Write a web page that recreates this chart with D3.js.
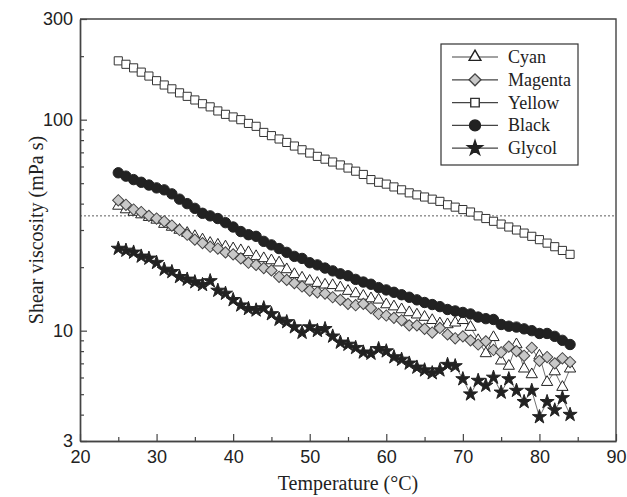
<!DOCTYPE html>
<html>
<head>
<meta charset="utf-8">
<script src="https://cdn.jsdelivr.net/npm/d3@7"></script>
<style>
body { margin: 0; background: #fff; }
svg { display: block; }
</style>
</head>
<body>
<div id="chart"></div>
<script>
// temperature (°C) for every measurement
var temps = [25,26,27,28,29,30,31,32,33,34,35,36,37,38,39,40,41,42,43,44,
  45,46,47,48,49,50,51,52,53,54,55,56,57,58,59,60,61,62,63,64,
  65,66,67,68,69,70,71,72,73,74,75,76,77,78,79,80,81,82,83,84]

// shear viscosity (mPa s)
var cyan = [39,37.5,36.5,35.5,34.5,33.5,32,31,30,29,28,27,26,25.5,25,24.5,24,23.5,22.5,22,
  21.5,21,19.5,18.5,17.8,17.2,16.8,16.5,16.4,16,15.4,15,14.6,14.2,14,13.3,13,12.6,12.2,11.9,
  11.6,11.2,10.8,10.7,10.9,11.2,10.4,9,7.8,9.3,7.2,6.8,8.6,6.6,6.2,7.6,5.7,6.4,5.4,6.6]
var magenta = [41.5,39.5,37.5,36.5,35,34,33,31.5,30,28.5,27,26,25,24.5,23.5,23,22,21,20.5,19.8,
  19.3,18,17.4,16.8,16.2,15.5,15.2,15,14.4,14,13.4,13.2,13.4,12.8,12,11.8,11.5,11.2,10.6,10.6,
  10.2,9.8,10.3,9.6,9.2,9.4,9,8.6,8.9,8.1,7.9,8.4,8,7.6,8.3,7.2,7.5,7,7.4,7.1]
var yellow = [190,183,176,168,161,153,146,140,134,129,124,119,115,110,106,103,100,96,93,87,
  84,81,78,75,72,69.5,67,65,63,61,59,57,55,52,50.5,49.5,48,46.5,45,44,
  43,42,41,39.5,38.5,37.5,36.5,35,34,33,32,31,30,29,28,27,26,25,24,23]
var black = [56,54,52,50.5,49,47.5,46.5,44.5,42,40,38,36,35,34,32.5,31,29.5,28.5,28,26.5,
  25.5,24.5,23.5,22.5,22,21,20.5,19.8,19.2,18.6,18.2,17.5,17,16.6,16,15.6,15.2,14.8,14.4,14,
  13.6,13.3,13,12.6,12.4,12.2,12,11.6,11.4,11.3,10.7,10.5,10.4,10.2,10,9.7,9.7,9.4,9,8.6]
var glycol = [24.5,24,23.5,22.5,22,21,19.5,19,18,17.5,17,16.5,17.2,15.5,15,14,13.2,12.7,12.5,12.8,
  12,11.3,11,10.4,9.8,10.4,10,10.2,9.4,8.8,8.6,8.3,7.9,7.8,8.2,8,7.5,7.3,7,6.7,
  6.5,6.3,6.5,6.9,6.8,5.9,5,5.8,5.5,6,5.1,5.9,5.2,4.6,5.2,3.9,4.6,4.2,4.8,4]

var seriesNames = ["Cyan", "Magenta", "Yellow", "Black", "Glycol"]
var seriesValues = [cyan, magenta, yellow, black, glycol]

var xMajor = [20,30,40,50,60,70,80,90]
var xMinor = [25,35,45,55,65,75,85]
var yMajor = [3,10,100,300]
var yMinor = [4,5,6,7,8,9,20,30,40,50,60,70,80,90,200]
var refLine = 35

var w = 627
var h = 497
var margin = {top: 19, right: 11, bottom: 56, left: 80}
var width = w - margin.left - margin.right
var height = h - margin.top - margin.bottom

var x = d3.scaleLinear().domain([20, 90]).range([0, width])
var y = d3.scaleLog().domain([3, 300]).range([height, 0])

// marker look per series
var marks = {
  Cyan:    {type: d3.symbolTriangle, size: 55, fill: "#fff", stroke: "#222", rot: 0},
  Magenta: {type: d3.symbolSquare, size: 64, fill: "#c8c8c8", stroke: "#444", rot: 45},
  Yellow:  {type: d3.symbolSquare, size: 66, fill: "#fff", stroke: "#333", rot: 0},
  Black:   {type: d3.symbolCircle, size: 85, fill: "#222", stroke: "#222", rot: 0},
  Glycol:  {type: d3.symbolStar, size: 62, fill: "#222", stroke: "#222", rot: 0}
}

var svg = d3.select("#chart").append("svg")
  .attr("width", w)
  .attr("height", h)

var g = svg.append("g")
  .attr("transform", "translate(" + margin.left + "," + margin.top + ")")

// dotted reference line
g.append("line")
  .attr("x1", 0).attr("x2", width)
  .attr("y1", y(refLine)).attr("y2", y(refLine))
  .attr("stroke", "#333")
  .attr("stroke-width", 0.8)
  .attr("stroke-dasharray", "2,2")

var line = d3.line()
  .x((d, i) => x(temps[i]))
  .y(d => y(d))

seriesNames.forEach(function(name, k) {
  var vals = seriesValues[k]
  var m = marks[name]
  var sg = g.append("g").attr("class", "series")

  sg.append("path")
    .attr("d", line(vals))
    .attr("fill", "none")
    .attr("stroke", "#333")
    .attr("stroke-width", 0.7)

  sg.selectAll("path.pt").data(vals).enter()
    .append("path")
    .attr("class", "pt")
    .attr("d", d3.symbol().type(m.type).size(m.size))
    .attr("transform", (d, i) => "translate(" + x(temps[i]) + "," + y(d) + ") rotate(" + m.rot + ")")
    .attr("fill", m.fill)
    .attr("stroke", m.stroke)
    .attr("stroke-width", 1)
})

// axes, ticks inside
var tickFont = "'Liberation Sans', Arial, sans-serif"

g.append("g")
  .attr("transform", "translate(0," + height + ")")
  .call(d3.axisBottom(x).tickValues(xMajor).tickSize(-7).tickSizeOuter(0).tickPadding(9).tickFormat(d3.format("d")))
g.append("g")
  .attr("transform", "translate(0," + height + ")")
  .call(d3.axisBottom(x).tickValues(xMinor).tickSize(-4).tickSizeOuter(0).tickFormat(""))

g.append("g")
  .call(d3.axisLeft(y).tickValues(yMajor).tickSize(-7).tickSizeOuter(0).tickPadding(7).tickFormat(d3.format("d")))
g.append("g")
  .call(d3.axisLeft(y).tickValues(yMinor).tickSize(-4).tickSizeOuter(0).tickFormat(""))

g.selectAll(".domain").attr("stroke", "#444").attr("stroke-width", 1.4)
g.selectAll(".tick line").attr("stroke", "#444").attr("stroke-width", 1.2)
g.selectAll(".tick text")
  .attr("font-family", tickFont)
  .attr("font-size", 18)
  .attr("fill", "#222")

// top and right frame
g.append("path")
  .attr("d", "M0,0H" + width + "V" + height)
  .attr("fill", "none")
  .attr("stroke", "#444")
  .attr("stroke-width", 1.4)

// axis titles
var serif = "'Liberation Serif', 'Times New Roman', serif"
svg.append("text")
  .attr("x", margin.left + width / 2)
  .attr("y", 490)
  .attr("text-anchor", "middle")
  .attr("font-family", serif)
  .attr("font-size", 20)
  .attr("fill", "#222")
  .text("Temperature (\u00B0C)")

svg.append("text")
  .attr("transform", "translate(43," + (margin.top + height / 2) + ") rotate(-90)")
  .attr("text-anchor", "middle")
  .attr("font-family", serif)
  .attr("font-size", 20)
  .attr("fill", "#222")
  .text("Shear viscosity (mPa s)")

// legend
var leg = svg.append("g").attr("transform", "translate(441,44)")
leg.append("rect")
  .attr("width", 137).attr("height", 121)
  .attr("fill", "#fff")
  .attr("stroke", "#333")
  .attr("stroke-width", 1.2)

seriesNames.forEach(function(name, k) {
  var m = marks[name]
  var row = leg.append("g").attr("transform", "translate(0," + (13 + k * 22.8) + ")")
  row.append("line")
    .attr("x1", 11).attr("x2", 57)
    .attr("stroke", "#444").attr("stroke-width", 1.2)
  row.append("path")
    .attr("d", d3.symbol().type(m.type).size(m.size * 1.1))
    .attr("transform", "translate(34,0) rotate(" + m.rot + ")")
    .attr("fill", m.fill)
    .attr("stroke", m.stroke)
    .attr("stroke-width", 1.4)
  row.append("text")
    .attr("x", 67)
    .attr("dy", "0.33em")
    .attr("font-family", serif)
    .attr("font-size", 18)
    .attr("fill", "#222")
    .text(name)
})
</script>
</body>
</html>
